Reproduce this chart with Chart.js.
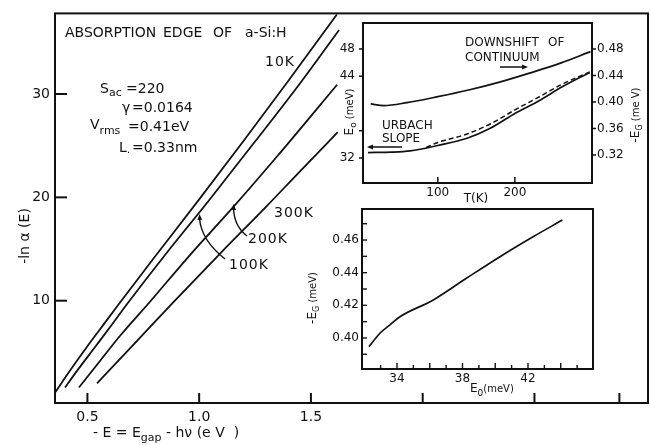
<!DOCTYPE html>
<html>
<head>
<meta charset="utf-8">
<script src="https://cdn.jsdelivr.net/npm/chart.js@4/dist/chart.umd.min.js"></script>
<style>
  html, body { margin: 0; padding: 0; background: #fff; }
  #wrap { position: relative; width: 650px; height: 445px; }
  #wrap canvas { position: absolute; left: 0; top: 0; }
</style>
</head>
<body>
<div id="wrap">
  <canvas id="edge" width="650" height="445"></canvas>
  <canvas id="temp" width="650" height="445"></canvas>
  <canvas id="corr" width="650" height="445"></canvas>
</div>
<script>
// ---- Absorption edge: -ln alpha(E) against -E (eV), one curve per temperature
const edge10K_E  = [0.355, 0.40, 0.45, 0.50, 0.55, 0.64, 0.80, 1.00, 1.20, 1.40, 1.616];
const edge10K_L  = [1.1, 2.55, 4.1, 5.6, 7.05, 9.65, 14.2, 19.8, 25.5, 31.3, 37.7];
const edge100K_E = [0.40, 0.46, 0.53, 0.60, 0.68, 0.85, 1.04, 1.25, 1.45, 1.626];
const edge100K_L = [1.6, 3.4, 5.4, 7.4, 9.75, 14.5, 19.6, 25.4, 31.0, 36.2];
const edge200K_E = [0.462, 0.55, 0.65, 0.78, 0.95, 1.15, 1.35, 1.617];
const edge200K_L = [1.6, 4.0, 6.7, 9.9, 14.2, 19.0, 24.0, 30.9];
const edge300K_E = [0.543, 0.70, 0.887, 1.10, 1.30, 1.45, 1.62];
const edge300K_L = [2.0, 5.6, 9.9, 14.7, 19.1, 22.5, 26.3];
const edgeTicksX = [0.5, 1.0, 1.5, 2.0, 2.5, 2.88];
const edgeTicksY = [10, 20, 30];

// ---- Temperature dependence: -E_G (right axis) and E_0 (left axis)
const egT    = [13, 30, 60, 100, 140, 180, 220, 260, 298];
const egVal  = [0.397, 0.3945, 0.399, 0.408, 0.418, 0.430, 0.444, 0.459, 0.476];
const e0T    = [9.5, 40, 64, 100, 138, 168, 200, 229, 262, 297];
const e0Val  = [32.8, 32.85, 33.03, 33.83, 34.89, 36.36, 38.53, 40.26, 42.47, 44.55];
const e0FitT   = [85, 100, 138, 168, 200, 229, 262, 297];
const e0FitVal = [33.54, 34.28, 35.52, 36.99, 39.05, 40.81, 42.86, 44.62];
const tempTicksX  = [100, 200];
const tempTicksE0 = [32, 36, 44, 48];
const tempTicksEG = [0.32, 0.36, 0.40, 0.44, 0.48];

// ---- -E_G against E_0
const corrE0 = [32.29, 32.96, 33.57, 34.18, 36.22, 38.26, 40.29, 42.31, 44.10];
const corrEG = [0.3947, 0.4029, 0.408, 0.413, 0.4233, 0.4367, 0.4498, 0.462, 0.4722];
const corrTicksX = [33, 34, 35, 36, 37, 38, 39, 40, 41, 42, 43, 44, 45];
const corrTicksY = [0.39, 0.40, 0.41, 0.42, 0.43, 0.44, 0.45, 0.46, 0.47];

const FONT = '"DejaVu Sans", sans-serif';
const INK = '#111';

function pts(xs, ys) { return xs.map((x, i) => ({ x: x, y: ys[i] })); }
function fixedTicks(values) { return s => { s.ticks = values.map(v => ({ value: v })); }; }
function lineSet(data, extra) {
  return Object.assign({ data: data, borderColor: INK, borderWidth: 1.8, pointRadius: 0,
    fill: false, cubicInterpolationMode: 'monotone' }, extra || {});
}
function seg(ctx, x1, y1, x2, y2) { ctx.beginPath(); ctx.moveTo(x1, y1); ctx.lineTo(x2, y2); ctx.stroke(); }
function head(ctx, x, y, ang, size) {
  ctx.save(); ctx.translate(x, y); ctx.rotate(ang);
  ctx.beginPath(); ctx.moveTo(0, 0); ctx.lineTo(-size, -size * 0.4); ctx.lineTo(-size, size * 0.4);
  ctx.closePath(); ctx.fill(); ctx.restore();
}
// text made of pieces: [text, size, dy]
function rich(ctx, x, y, parts, align) {
  let w = 0;
  parts.forEach(p => { ctx.font = p[1] + 'px ' + FONT; w += ctx.measureText(p[0]).width; });
  let cx = align === 'center' ? x - w / 2 : x;
  ctx.textAlign = 'left'; ctx.textBaseline = 'middle';
  parts.forEach(p => {
    ctx.font = p[1] + 'px ' + FONT;
    ctx.fillText(p[0], cx, y + (p[2] || 0));
    cx += ctx.measureText(p[0]).width;
  });
}
function richVertical(ctx, x, y, parts) {
  ctx.save(); ctx.translate(x, y); ctx.rotate(-Math.PI / 2);
  rich(ctx, 0, 0, parts, 'center'); ctx.restore();
}
function plainScale(extra) {
  return Object.assign({
    type: 'linear', grid: { display: false, drawTicks: false }, border: { display: false }
  }, extra);
}
const baseOpts = {
  responsive: false, animation: false, devicePixelRatio: 1,
  plugins: { legend: { display: false }, tooltip: { enabled: false } }
};

// ================= main chart =================
new Chart(document.getElementById('edge'), {
  type: 'line',
  data: { datasets: [
    lineSet(pts(edge10K_E, edge10K_L)),
    lineSet(pts(edge100K_E, edge100K_L)),
    lineSet(pts(edge200K_E, edge200K_L)),
    lineSet(pts(edge300K_E, edge300K_L))
  ] },
  options: Object.assign({}, baseOpts, {
    layout: { padding: { left: 0, top: 7, right: 2, bottom: 0 } },
    scales: {
      x: plainScale({ min: 0.355, max: 3.008, afterBuildTicks: fixedTicks(edgeTicksX),
        afterFit: s => { s.height = 42; },
        ticks: { autoSkip: false, maxRotation: 0, padding: 6, color: INK, font: { family: FONT, size: 14 },
          callback: v => (v <= 1.5 ? v.toFixed(1) : '') } }),
      y: plainScale({ min: 0.1, max: 37.8, afterBuildTicks: fixedTicks(edgeTicksY),
        afterFit: s => { s.width = 55; },
        ticks: { padding: 5, color: INK, font: { family: FONT, size: 14 } } })
    }
  }),
  plugins: [{
    id: 'edgeDecor',
    afterDraw(chart) {
      const { ctx, chartArea: a, scales: { x, y } } = chart;
      ctx.save();
      ctx.strokeStyle = INK; ctx.fillStyle = INK; ctx.lineWidth = 2;
      ctx.strokeRect(a.left, a.top, a.right - a.left, a.bottom - a.top);
      x.ticks.forEach(t => { const px = x.getPixelForValue(t.value); seg(ctx, px, a.bottom, px, a.bottom - 10); });
      y.ticks.forEach(t => { const py = y.getPixelForValue(t.value); seg(ctx, a.left, py, a.left + 12, py); });

      // heading
      ctx.font = '14px ' + FONT; ctx.textBaseline = 'middle'; ctx.textAlign = 'left';
      ctx.fillText('ABSORPTION', 65, 33);
      ctx.fillText('EDGE', 163, 33);
      ctx.fillText('OF', 213, 33);
      ctx.fillText('a-Si:H', 245, 33);

      // model parameters
      rich(ctx, 100, 89, [['S', 14], ['ac', 11, 4]]);
      rich(ctx, 126, 89, [['=220', 14]]);
      rich(ctx, 122, 108, [['\u03B3', 14]]);
      rich(ctx, 132, 108, [['=0.0164', 14]]);
      rich(ctx, 90, 125, [['V', 14], ['rms', 11, 6]]);
      rich(ctx, 128, 127, [['=0.41eV', 14]]);
      rich(ctx, 119, 148, [['L', 14], ['.', 11, 2]]);
      rich(ctx, 132, 148, [['=0.33nm', 14]]);

      // temperature labels
      ctx.save();
      ctx.letterSpacing = '1px';
      ctx.font = '14px ' + FONT; ctx.textAlign = 'left'; ctx.textBaseline = 'middle';
      ctx.fillText('10K', 265, 62);
      ctx.fillText('300K', 274, 213);
      ctx.fillText('200K', 248, 239);
      ctx.fillText('100K', 229, 265);
      ctx.restore();

      // pointers from the labels to their curves
      ctx.lineWidth = 1.4;
      ctx.beginPath(); ctx.moveTo(225, 259); ctx.quadraticCurveTo(201, 240, 199.5, 218); ctx.stroke();
      head(ctx, 199.5, 214, -Math.PI / 2 - 0.05, 6);
      ctx.beginPath(); ctx.moveTo(247, 236); ctx.quadraticCurveTo(234, 226, 233.5, 208); ctx.stroke();
      head(ctx, 233.5, 204, -Math.PI / 2 - 0.03, 6);

      // axis titles
      ctx.fillStyle = INK;
      rich(ctx, 93, 433, [['- E = E', 14], ['gap', 11, 5], [' - h\u03BD (e V  )', 14]]);
      richVertical(ctx, 25, 236, [['-ln \u03B1 (E)', 14]]);
      ctx.restore();
    }
  }]
});

// ================= upper inset: temperature dependence =================
new Chart(document.getElementById('temp'), {
  type: 'line',
  data: { datasets: [
    lineSet(pts(egT, egVal), { yAxisID: 'yR', borderWidth: 1.7 }),
    lineSet(pts(e0T, e0Val), { yAxisID: 'yL', borderWidth: 1.7 }),
    lineSet(pts(e0FitT, e0FitVal), { yAxisID: 'yL', borderWidth: 1.5, borderDash: [5, 3] })
  ] },
  options: Object.assign({}, baseOpts, {
    layout: { padding: { left: 323, top: 23, right: 8, bottom: 240 } },
    scales: {
      x: plainScale({ min: 3, max: 300, afterBuildTicks: fixedTicks(tempTicksX),
        afterFit: s => { s.height = 22; },
        ticks: { autoSkip: false, maxRotation: 0, padding: 3, color: INK, font: { family: FONT, size: 12 } } }),
      yL: plainScale({ position: 'left', min: 28.33, max: 51.8, afterBuildTicks: fixedTicks(tempTicksE0),
        afterFit: s => { s.width = 40; },
        ticks: { padding: 8, color: INK, font: { family: FONT, size: 12 },
          callback: v => (v === 36 ? '' : String(v)) } }),
      yR: plainScale({ position: 'right', min: 0.2777, max: 0.5192, afterBuildTicks: fixedTicks(tempTicksEG),
        afterFit: s => { s.width = 50; },
        ticks: { padding: 5, color: INK, font: { family: FONT, size: 12 }, callback: v => v.toFixed(2) } })
    }
  }),
  plugins: [{
    id: 'tempDecor',
    afterDraw(chart) {
      const { ctx, chartArea: a, scales: { x, yL, yR } } = chart;
      ctx.save();
      ctx.strokeStyle = INK; ctx.fillStyle = INK; ctx.lineWidth = 2;
      ctx.strokeRect(a.left, a.top, a.right - a.left, a.bottom - a.top);
      ctx.lineWidth = 1.5;
      x.ticks.forEach(t => { const px = x.getPixelForValue(t.value); seg(ctx, px, a.bottom, px, a.bottom - 6); });
      yL.ticks.forEach(t => { const py = yL.getPixelForValue(t.value); seg(ctx, a.left, py, a.left - 4, py); });
      yR.ticks.forEach(t => { const py = yR.getPixelForValue(t.value); seg(ctx, a.right, py, a.right + 4, py); });

      ctx.font = '12px ' + FONT; ctx.textAlign = 'left'; ctx.textBaseline = 'middle';
      ctx.fillText('DOWNSHIFT', 465, 43);
      ctx.fillText('OF', 548, 43);
      ctx.fillText('CONTINUUM', 465, 58);
      ctx.fillText('URBACH', 382, 126);
      ctx.fillText('SLOPE', 382, 139);
      ctx.lineWidth = 1.5;
      seg(ctx, 500, 67, 522, 67); head(ctx, 528, 67, 0, 6);
      seg(ctx, 373, 147, 402, 147); head(ctx, 367, 147, Math.PI, 6);

      rich(ctx, 476, 199, [['T(K)', 12]], 'center');
      richVertical(ctx, 350, 112, [['E', 12], ['o', 9, 4], [' (meV)', 10]]);
      richVertical(ctx, 636, 115, [['-E', 12], ['G', 8, 4], [' (me V)', 10]]);
      ctx.restore();
    }
  }]
});

// ================= lower inset: -E_G against E_0 =================
new Chart(document.getElementById('corr'), {
  type: 'line',
  data: { datasets: [ lineSet(pts(corrE0, corrEG), { borderWidth: 1.7 }) ] },
  options: Object.assign({}, baseOpts, {
    layout: { padding: { left: 322, top: 209, right: 57, bottom: 56 } },
    scales: {
      x: plainScale({ min: 31.863, max: 45.97, afterBuildTicks: fixedTicks(corrTicksX),
        afterFit: s => { s.height = 20; },
        ticks: { autoSkip: false, maxRotation: 0, padding: 3, color: INK, font: { family: FONT, size: 12 },
          callback: v => ((v - 34) % 4 === 0 ? String(v) : '') } }),
      y: plainScale({ min: 0.381, max: 0.479, afterBuildTicks: fixedTicks(corrTicksY),
        afterFit: s => { s.width = 40; },
        ticks: { padding: 3, color: INK, font: { family: FONT, size: 12 },
          callback: v => (Math.round(v * 100) % 2 === 0 ? v.toFixed(2) : '') } })
    }
  }),
  plugins: [{
    id: 'corrDecor',
    afterDraw(chart) {
      const { ctx, chartArea: a, scales: { x, y } } = chart;
      ctx.save();
      ctx.strokeStyle = INK; ctx.fillStyle = INK; ctx.lineWidth = 2;
      ctx.strokeRect(a.left, a.top, a.right - a.left, a.bottom - a.top);
      ctx.lineWidth = 1.4;
      x.ticks.forEach(t => {
        const px = x.getPixelForValue(t.value);
        seg(ctx, px, a.bottom, px, a.bottom - (t.value % 2 === 0 ? 6 : 4));
      });
      y.ticks.forEach(t => { const py = y.getPixelForValue(t.value); seg(ctx, a.left, py, a.left + 5, py); });
      rich(ctx, 470, 389, [['E', 12], ['0', 9, 5], ['(meV)', 10]]);
      richVertical(ctx, 313, 298, [['-E', 12], ['G', 8, 4], [' (meV)', 10]]);
      ctx.restore();
    }
  }]
});
</script>
</body>
</html>
